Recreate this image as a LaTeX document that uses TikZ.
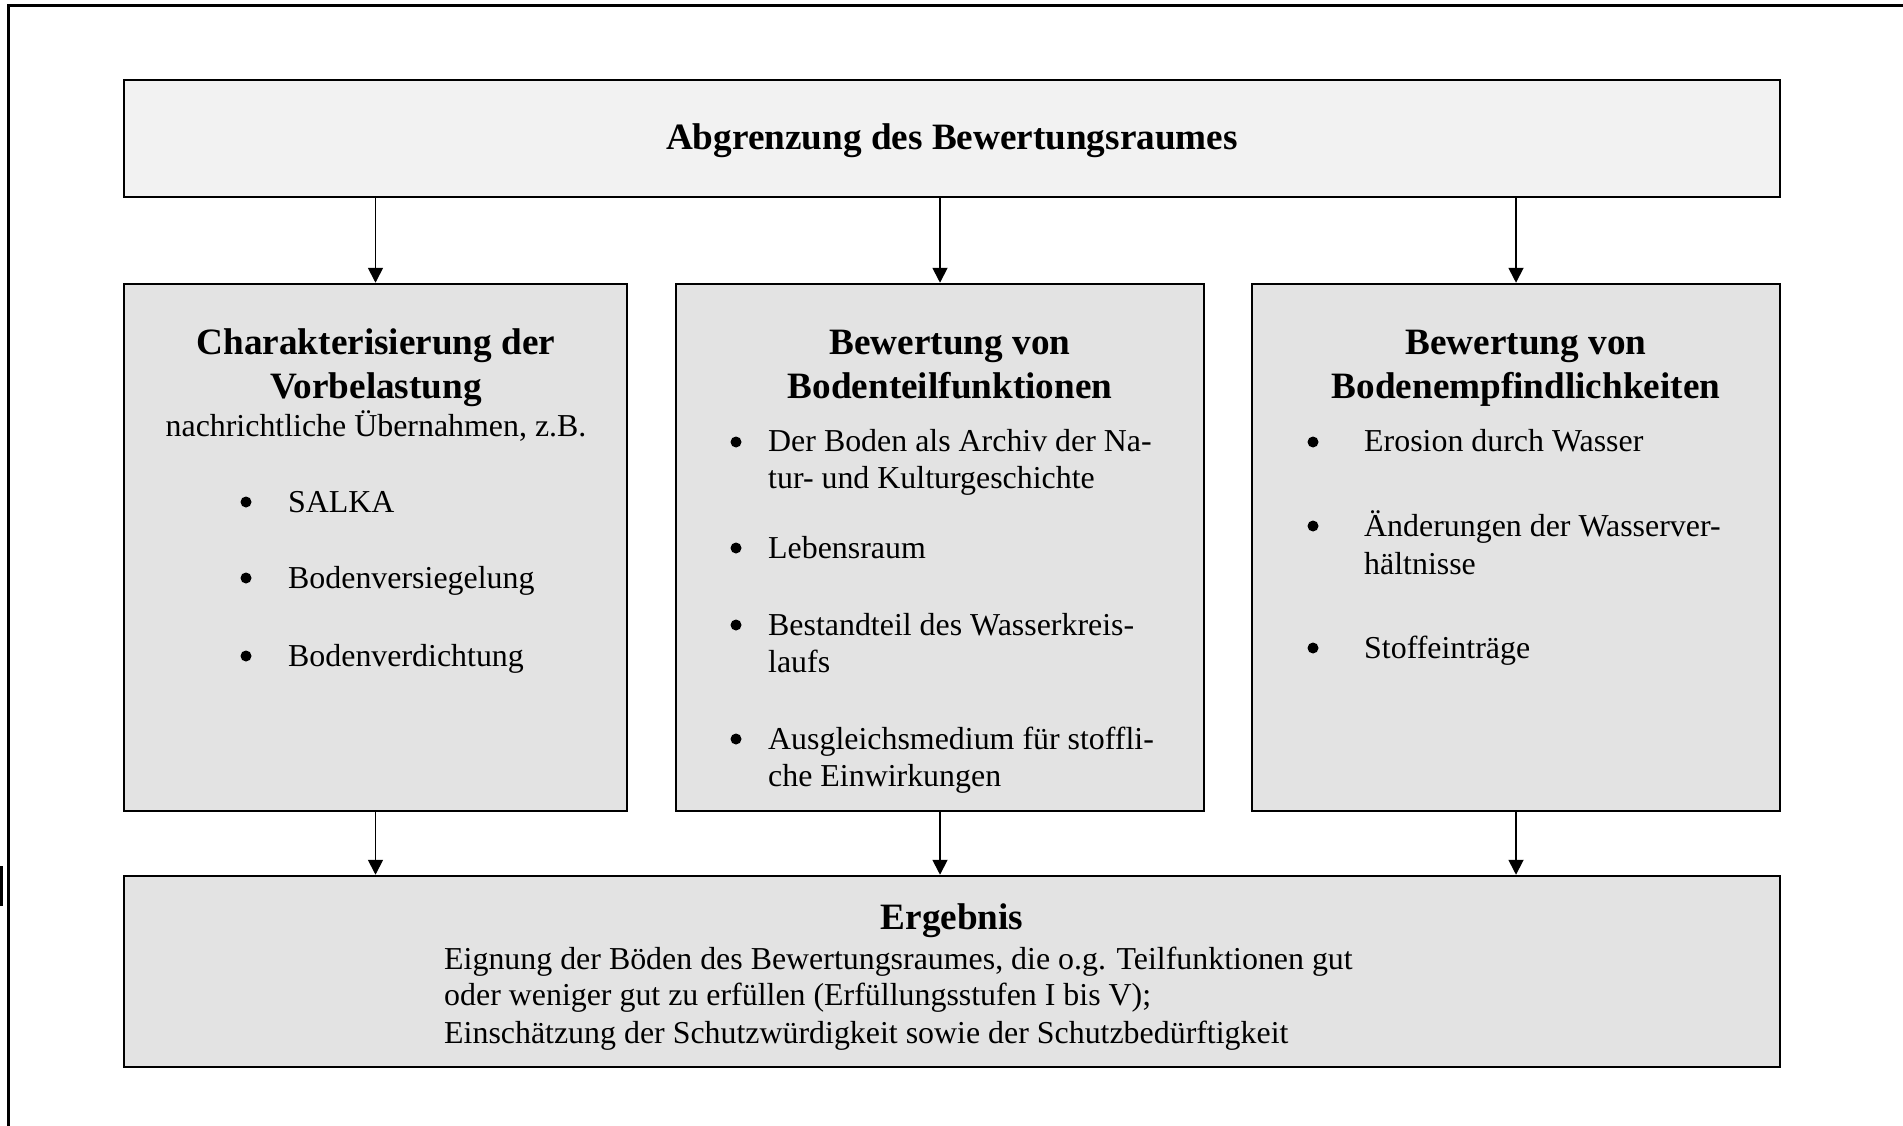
\documentclass[tikz,border=0pt]{standalone}
\usepackage{fontspec}
\setmainfont{Liberation Serif}
\usetikzlibrary{arrows.meta}
\definecolor{topfill}{HTML}{F2F2F2}
\definecolor{boxfill}{HTML}{E3E3E3}
\tikzset{
  box/.style={draw=black, line width=2.5pt, inner sep=0pt},
  arr/.style={line width=1.8pt, -{Triangle[length=15pt,width=15pt]}},
  head/.style={font=\fontsize{37.2}{43.7}\selectfont\bfseries, inner sep=0pt, anchor=base},
  body/.style={font=\fontsize{31.9}{36.8}\selectfont, inner sep=0pt, anchor=base west},
  ctext/.style={font=\fontsize{31.9}{36.8}\selectfont, inner sep=0pt, anchor=base},
  dot/.style={circle, fill=black, inner sep=0pt, minimum size=11pt},
}
\begin{document}
\begin{tikzpicture}[x=1pt,y=-1pt]
\useasboundingbox (0,0) rectangle (1903,1126);
% outer frame
\draw[line width=3pt] (8,1126) -- (8,6) -- (1903,6);
\fill (0,866) rectangle (2.5,906);
% boxes
\node[box, fill=topfill, minimum width=1656pt, minimum height=117pt] (top) at (952,138.5) {};
\node[box, fill=boxfill, minimum width=503pt, minimum height=527pt] (L) at (375.5,547.5) {};
\node[box, fill=boxfill, minimum width=528pt, minimum height=527pt] (M) at (940,547.5) {};
\node[box, fill=boxfill, minimum width=528pt, minimum height=527pt] (R) at (1516,547.5) {};
\node[box, fill=boxfill, minimum width=1656pt, minimum height=191pt] (B) at (952,971.5) {};
% arrows
\draw[arr] (top.south -| L.north) -- (L.north);
\draw[arr] (top.south -| M.north) -- (M.north);
\draw[arr] (top.south -| R.north) -- (R.north);
\draw[arr] (L.south) -- (L.south |- B.north);
\draw[arr] (M.south) -- (M.south |- B.north);
\draw[arr] (R.south) -- (R.south |- B.north);
% title
\node[head] (t0) at (952,150) {Abgrenzung des Bewertungsraumes};
% left box
\node[head] (l1) at (376,354) {Charakterisierung der};
\node[head] (l2) at (376,398) {Vorbelastung};
\node[ctext] (l3) at (376,436) {nachrichtliche Übernahmen, z.B.};
\node[dot] (lb1) at (246,502) {};
\node[body] (lt1) at (288,512) {SALKA};
\node[dot] (lb2) at (246,578) {};
\node[body] (lt2) at (288,588) {Bodenversiegelung};
\node[dot] (lb3) at (246,656) {};
\node[body] (lt3) at (288,666) {Bodenverdichtung};
% middle box
\node[head] (m1) at (950,354) {Bewertung von};
\node[head] (m2) at (950,398) {Bodenteilfunktionen};
\node[dot] (mb1) at (736,442) {};
\node[body] (mt1a) at (768,451) {Der Boden als Archiv der Na-};
\node[body] (mt1b) at (768,488) {tur- und Kulturgeschichte};
\node[dot] (mb2) at (736,548) {};
\node[body] (mt2) at (768,558) {Lebensraum};
\node[dot] (mb3) at (736,625) {};
\node[body] (mt3a) at (768,635) {Bestandteil des Wasserkreis-};
\node[body] (mt3b) at (768,672) {laufs};
\node[dot] (mb4) at (736,739) {};
\node[body] (mt4a) at (768,749) {Ausgleichsmedium für stoffli-};
\node[body] (mt4b) at (768,786) {che Einwirkungen};
% right box
\node[head] (r1) at (1526,354) {Bewertung von};
\node[head] (r2) at (1526,398) {Bodenempfindlichkeiten};
\node[dot] (rb1) at (1313,442) {};
\node[body] (rt1) at (1364,451) {Erosion durch Wasser};
\node[dot] (rb2) at (1313,526) {};
\node[body] (rt2a) at (1364,536) {Änderungen der Wasserver-};
\node[body] (rt2b) at (1364,574) {hältnisse};
\node[dot] (rb3) at (1313,648) {};
\node[body] (rt3) at (1364,658) {Stoffeinträge};
% bottom box
\node[head] (b0) at (952,929) {Ergebnis};
\node[body] (b1) at (444,969) {Eignung der Böden des Bewertungsraumes, die o.g. Teilfunktionen gut};
\node[body] (b2) at (444,1005) {oder weniger gut zu erfüllen (Erfüllungsstufen I bis V);};
\node[body] (b3) at (444,1043) {Einschätzung der Schutzwürdigkeit sowie der Schutzbedürftigkeit};
\end{tikzpicture}
\end{document}
